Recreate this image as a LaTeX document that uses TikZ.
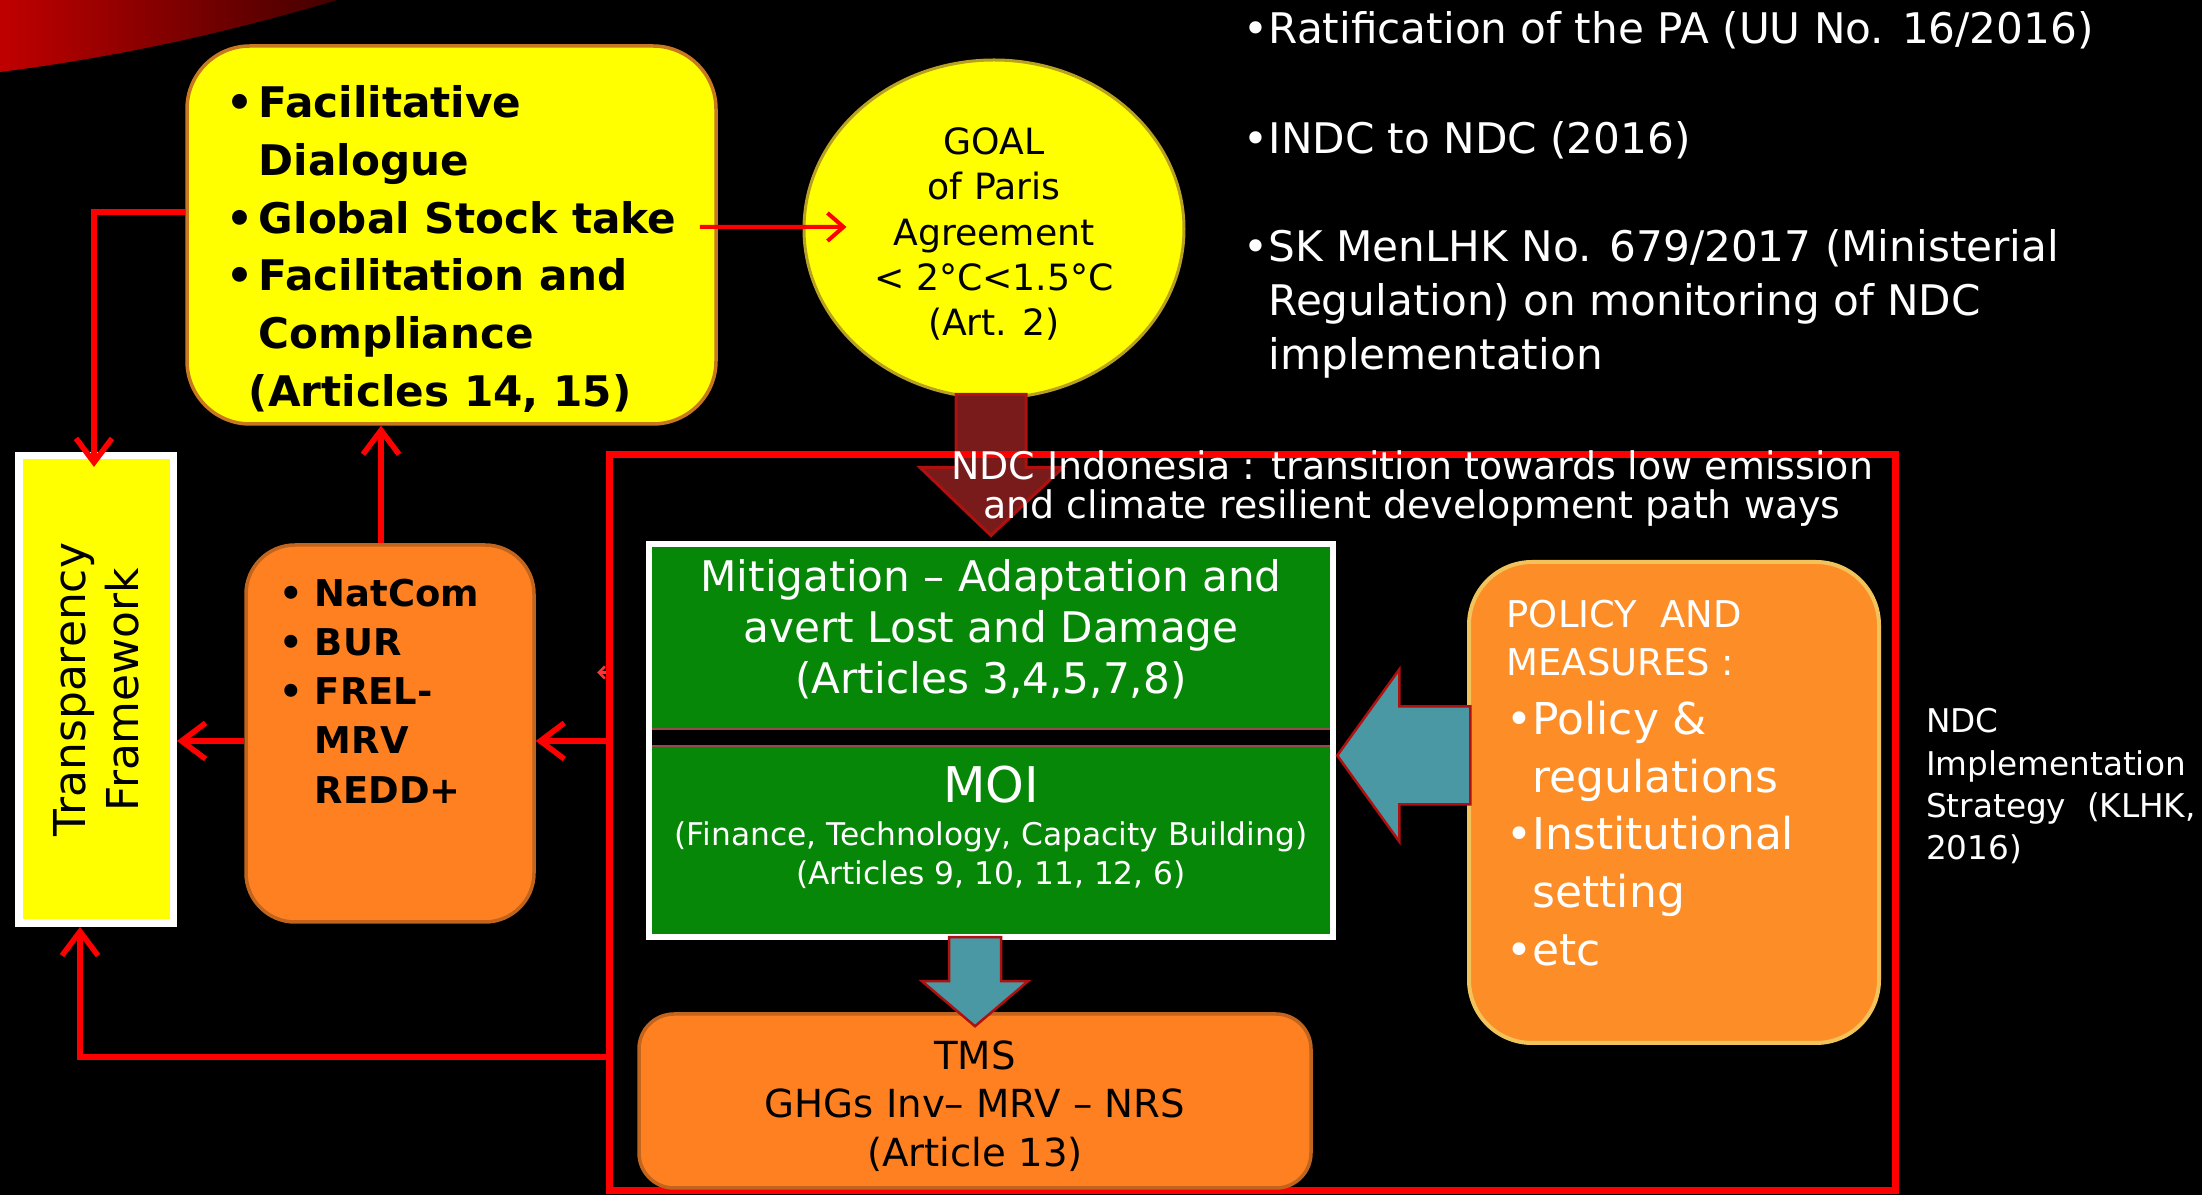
\documentclass[tikz,border=0pt]{standalone}
\usepackage{fontspec}
\setmainfont{DejaVu Sans}
\usetikzlibrary{positioning,arrows.meta,calc,fit,shapes.geometric}
\definecolor{swoosh}{HTML}{C00000}
\definecolor{padyellow}{HTML}{FFFF00}
\definecolor{facilrim}{HTML}{C8781E}
\definecolor{goalrim}{HTML}{B8A020}
\definecolor{boxorange}{HTML}{FE8020}
\definecolor{boxrim}{HTML}{C0641E}
\definecolor{policyorange}{HTML}{FD8D27}
\definecolor{policyrim}{HTML}{F2C35A}
\definecolor{moigreen}{HTML}{078707}
\definecolor{flowteal}{HTML}{4A98A3}
\definecolor{goalred}{HTML}{7A1B1B}
\definecolor{linkred}{HTML}{FF0000}
\newcommand{\bul}[1]{\makebox[#1][l]{•}}

\begin{document}
\begin{tikzpicture}[
  x=0.1mm, y=-0.1mm,
  panel/.style={rounded corners=#1, line width=0.35mm, inner sep=0pt},
  greenbox/.style={fill=moigreen, draw=goalred!80, line width=0.25mm, minimum width=68.2mm,
                   inner sep=0pt},
  txt/.style={anchor=north west, align=left, inner sep=0pt},
  link/.style={draw=linkred, line width=0.55mm, -{Straight Barb[length=2.4mm, width=3.6mm]}},
  thinlink/.style={draw=linkred, line width=0.4mm, -{Straight Barb[length=1.6mm, width=2.8mm]}},
  tinylink/.style={draw=linkred!80, line width=0.25mm, -{Straight Barb[length=0.6mm, width=1.2mm]}},
  blockred/.style={fill=goalred, draw=goalred!60!red, line width=0.3mm},
  blockteal/.style={fill=flowteal, draw=goalred!60!red, line width=0.25mm}
]
  \useasboundingbox (0,0) rectangle (2202,1195);
  \fill[black] (0,0) rectangle (2202,1195);
  \shade[left color=swoosh, right color=swoosh!35!black] (0,0) -- (337,0)
    .. controls (220,35) and (110,58) .. (0,72) -- cycle;

  % Paris agreement side
  \node[panel=6.3mm, fill=padyellow, draw=facilrim, minimum width=52.9mm, minimum height=37.8mm]
    (facil) at (451.5,235) {};
  \node[txt, font=\bfseries\fontsize{12}{16.4}\selectfont] (facil-txt)
    at ([xshift=4.1mm,yshift=-4.1mm]facil.north west)
    {\bul{3.2mm}Facilitative\\ \hspace*{3.2mm}Dialogue\\ \bul{3.2mm}Global Stock take\\
     \bul{3.2mm}Facilitation and\\ \hspace*{3.2mm}Compliance\\ \hspace*{2.2mm}(Articles 14, 15)};

  \node[ellipse, fill=padyellow, draw=goalrim, line width=0.3mm, minimum width=38mm,
        minimum height=33.8mm, inner sep=0pt] (goal) at (994,229) {};
  \node[align=center, font=\fontsize{10.3}{12.9}\selectfont] (goal-txt) at ($(goal)+(0,5)$)
    {GOAL\\of Paris\\Agreement\\< 2°C<1.5°C\\(Art. 2)};

  \node[draw=white, fill=padyellow, line width=0.75mm, minimum width=15.45mm,
        minimum height=46.75mm, inner sep=0pt] (tf) at (96,689.5) {};
  \node[rotate=90, align=center, inner sep=0pt, font=\fontsize{12.5}{15}\selectfont]
    (tf-txt) at (tf) {Transparency\\Framework};

  \node[panel=4.9mm, fill=boxorange, draw=boxrim, minimum width=28.8mm, minimum height=37.7mm]
    (natcom) at (390,733.5) {};
  \node[txt, font=\bfseries\fontsize{10.5}{14}\selectfont] (natcom-txt)
    at ([xshift=3.5mm,yshift=-3.5mm]natcom.north west)
    {\bul{3.5mm}NatCom\\ \bul{3.5mm}BUR\\ \bul{3.5mm}FREL-\\ \hspace*{3.5mm}MRV\\ \hspace*{3.5mm}REDD+};

  % Goal feeds the NDC
  \filldraw[blockred] ($(goal.south)+(-38,-5)$) -- ++(0,73) -- ++(-36,0) -- ++(71,68)
    -- ++(72,-68) -- ++(-37,0) -- ++(0,-73) -- cycle;

  % NDC frame
  \node[draw=linkred, line width=0.7mm, minimum width=128.6mm, minimum height=73.6mm, inner sep=0pt]
    (ndc) at (1252.5,822.5) {};
  \node[text=white, align=center, inner sep=0pt, font=\fontsize{10.8}{11.1}\selectfont]
    (ndc-head) at (1412,489)
    {NDC Indonesia : transition towards low emission\\and climate resilient development path ways};

  \node[greenbox, minimum height=18.4mm] (mitig) at (991,637) {};
  \node[align=center, text=white, font=\fontsize{12}{14.5}\selectfont] (mitig-txt)
    at ($(mitig)+(0,-8)$) {Mitigation – Adaptation and\\avert Lost and Damage\\(Articles 3,4,5,7,8)};
  \node[greenbox, minimum height=19mm] (moi) at (991,841) {};
  \node[align=center, text=white, font=\fontsize{8.9}{11.1}\selectfont] (moi-txt)
    at ($(moi)+(0,-14)$)
    {{\fontsize{14}{16}\selectfont MOI}\\[1.2pt](Finance, Technology, Capacity Building)\\(Articles 9, 10, 11, 12, 6)};
  \node[draw=white, line width=0.6mm, fit=(mitig)(moi), inner sep=0pt] (core) {};

  \node[panel=3.5mm, fill=boxorange, draw=boxrim, minimum width=67.2mm, minimum height=17.4mm]
    (tms) at (975,1101) {};
  \node[align=center, font=\fontsize{11}{13.8}\selectfont] (tms-txt) at ($(tms)+(0,5)$)
    {TMS\\GHGs Inv– MRV – NRS\\(Article 13)};

  \node[panel=6.3mm, fill=policyorange, draw=policyrim, line width=0.4mm, minimum width=41mm,
        minimum height=48.1mm] (policy) at (1674,802.5) {};
  \node[txt, text=white, font=\fontsize{10.5}{13.7}\selectfont] (pol-head)
    at ([xshift=3.9mm,yshift=-3.9mm]policy.north west) {POLICY\ \ AND\\MEASURES :};
  \node[txt, text=white, font=\fontsize{12.5}{16.4}\selectfont,
        below right=2.4mm and 0mm of pol-head.south west] (pol-list)
    {•Policy \&\\ \phantom{•}regulations\\ •Institutional\\ \phantom{•}setting\\ •etc};

  % Block arrows
  \filldraw[blockteal] ($(tms.north)+(-26,-75)$) -- ++(0,44) -- ++(-27,0) -- ++(53,45)
    -- ++(53,-45) -- ++(-27,0) -- ++(0,-44) -- cycle;
  \filldraw[blockteal] ($(core.east)+(1,15)$) -- ++(62,-86) -- ++(0,37) -- ++(71,0)
    -- ++(0,98) -- ++(-71,0) -- ++(0,37) -- cycle;

  % Side notes
  \node[txt, text=white, font=\fontsize{12}{15.4}\selectfont] (facts) at (1243,11)
    {•Ratification of the PA (UU No. 16/2016)\\[15.9pt]
     •INDC to NDC (2016)\\[15.2pt]
     •SK MenLHK No. 679/2017 (Ministerial\\
     \phantom{•}Regulation) on monitoring of NDC\\
     \phantom{•}implementation};
  \node[txt, text=white, font=\fontsize{9.3}{12}\selectfont] (ndc-impl)
    at ([xshift=2.65mm,yshift=11.45mm]ndc.east)
    {NDC\\Implementation\\Strategy\ \ (KLHK,\\2016)};

  % Red links
  \draw[thinlink] ([xshift=-1.8mm,yshift=0.8mm]facil.east) -- ([xshift=4.4mm,yshift=0.2mm]goal.west);
  \draw[link] ([yshift=2.3mm]facil.west) -| ([xshift=-0.2mm,yshift=-1.5mm]tf.north);
  \draw[link] ([yshift=-0.75mm]natcom.west) -- ([yshift=-0.75mm]natcom.west -| tf.east);
  \draw[link] ([yshift=-0.75mm]natcom.east -| ndc.west) -- ([yshift=-0.75mm]natcom.east);
  \draw[link] ([xshift=-0.9mm]natcom.north) -- ([xshift=-0.9mm]natcom.north |- facil.south);
  \draw[link] ([yshift=4.4mm]ndc.west |- tms) -| ([xshift=-1.6mm]tf.south);
  \draw[tinylink] ([yshift=15mm]ndc.west) -- ++(-9,0);
\end{tikzpicture}
\end{document}
